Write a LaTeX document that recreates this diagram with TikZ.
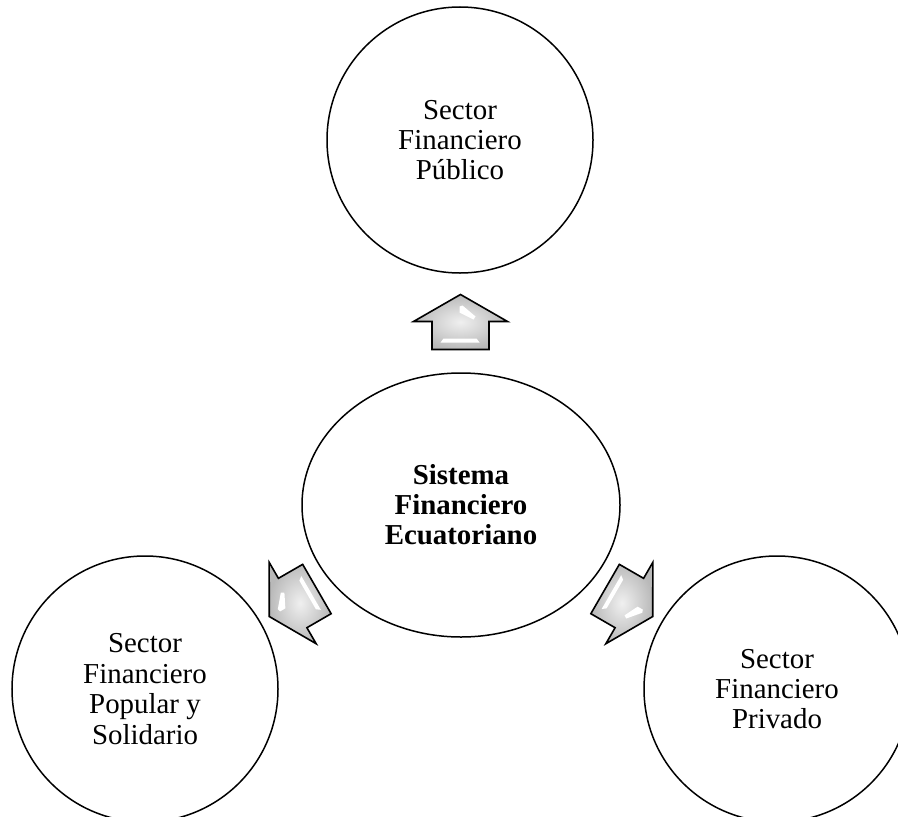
\documentclass[tikz,border=0pt]{standalone}
\usepackage{fontspec}
\setmainfont{Liberation Serif}
\usetikzlibrary{shapes.geometric,calc}

\tikzset{
	sector/.style={circle, draw, line width=1.5bp, minimum size=266bp, inner sep=0pt,
		align=center, font=\fontsize{29}{30.5}\selectfont},
	sistema/.style={ellipse, draw, line width=1.5bp, minimum width=318bp, minimum height=264bp,
		inner sep=0pt, align=center, font=\fontsize{29}{30}\selectfont\bfseries},
	bevelarrow/.pic={
		\shadedraw[draw=black, line width=1.6bp, line join=miter, inner color=gray!12, outer color=gray!55]
			(0,-28) -- (47,-1) -- (28.5,-1) -- (28.5,27) -- (-28.5,27) -- (-28.5,-1) -- (-47,-1) -- cycle;
		\fill[white] (-1,-16) -- (2,-17) -- (15,-6) -- (13,-3) -- (-1,-10) -- cycle;
		\fill[white] (-17,16) -- (16,16) -- (19,20) -- (-20,20) -- cycle;
	}
}

\begin{document}
\begin{tikzpicture}[x=1bp, y=-1bp]
	\useasboundingbox (0,0) rectangle (898,817);

	\node[sector] (publico) at (460,140) {Sector\\Financiero\\Público};
	\node[sistema] (sistema) at (461,505) {Sistema\\Financiero\\Ecuatoriano};
	\node[sector] (popular) at (145,689) {Sector\\Financiero\\Popular y\\Solidario};
	\node[sector] (privado) at (777,689) {Sector\\Financiero\\Privado};

	% flechas
	\pic at ($(sistema)!0.5!(publico)$) {bevelarrow};
	\pic[rotate=120] at ($(sistema)!0.53!(popular)$) {bevelarrow};
	\pic[rotate=-120] at ($(sistema)!0.53!(privado)$) {bevelarrow};
\end{tikzpicture}
\end{document}
